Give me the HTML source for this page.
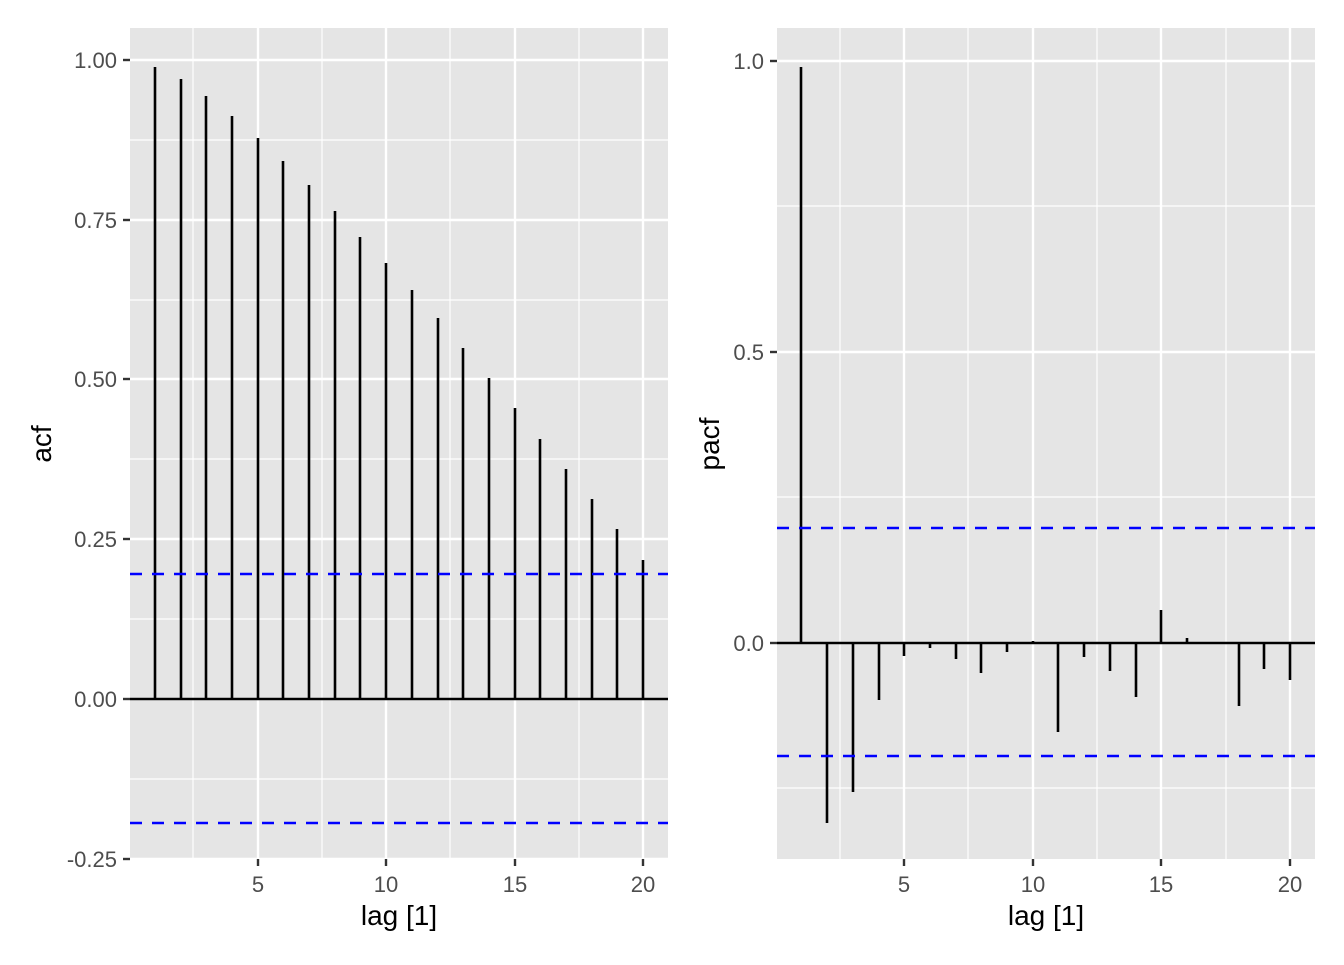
<!DOCTYPE html>
<html><head><style>body{margin:0;background:#fff}svg text{font-family:"Liberation Sans",Arial,sans-serif}</style></head><body>
<svg width="1344" height="960" xmlns="http://www.w3.org/2000/svg">
<rect width="1344" height="960" fill="#fff"/>
<!-- Left panel -->
<rect x="130" y="28" width="538" height="831" fill="#e5e5e5"/>
<g stroke="#fff" stroke-width="1.2">
<line x1="130" x2="668" y1="140" y2="140"/><line x1="130" x2="668" y1="300" y2="300"/><line x1="130" x2="668" y1="459" y2="459"/><line x1="130" x2="668" y1="619" y2="619"/><line x1="130" x2="668" y1="779" y2="779"/>
<line x1="193" x2="193" y1="28" y2="859"/><line x1="322" x2="322" y1="28" y2="859"/><line x1="450" x2="450" y1="28" y2="859"/><line x1="579" x2="579" y1="28" y2="859"/>
</g>
<g stroke="#fff" stroke-width="2.4">
<line x1="130" x2="668" y1="60" y2="60"/><line x1="130" x2="668" y1="220" y2="220"/><line x1="130" x2="668" y1="379" y2="379"/><line x1="130" x2="668" y1="539" y2="539"/><line x1="130" x2="668" y1="699" y2="699"/><line x1="130" x2="668" y1="859" y2="859"/>
<line x1="258" x2="258" y1="28" y2="859"/><line x1="386" x2="386" y1="28" y2="859"/><line x1="515" x2="515" y1="28" y2="859"/><line x1="643" x2="643" y1="28" y2="859"/>
</g>
<g stroke="#000" stroke-width="2.6">
<line x1="155" x2="155" y1="699" y2="67"/><line x1="181" x2="181" y1="699" y2="79"/><line x1="206" x2="206" y1="699" y2="96"/><line x1="232" x2="232" y1="699" y2="116"/><line x1="258" x2="258" y1="699" y2="138"/><line x1="283" x2="283" y1="699" y2="161"/><line x1="309" x2="309" y1="699" y2="185"/><line x1="335" x2="335" y1="699" y2="211"/><line x1="360" x2="360" y1="699" y2="237"/><line x1="386" x2="386" y1="699" y2="263"/><line x1="412" x2="412" y1="699" y2="290"/><line x1="438" x2="438" y1="699" y2="318"/><line x1="463" x2="463" y1="699" y2="348"/><line x1="489" x2="489" y1="699" y2="378"/><line x1="515" x2="515" y1="699" y2="408"/><line x1="540" x2="540" y1="699" y2="439"/><line x1="566" x2="566" y1="699" y2="469"/><line x1="592" x2="592" y1="699" y2="499"/><line x1="617" x2="617" y1="699" y2="529"/><line x1="643" x2="643" y1="699" y2="560"/>
<line x1="130" x2="668" y1="699" y2="699"/>
</g>
<g stroke="#0000ff" stroke-width="2.4" stroke-dasharray="12,10"><line x1="130" x2="668" y1="574" y2="574"/><line x1="130" x2="668" y1="823" y2="823"/></g>
<g stroke="#333" stroke-width="2.4">
<line x1="123" x2="130" y1="60" y2="60"/><line x1="123" x2="130" y1="220" y2="220"/><line x1="123" x2="130" y1="379" y2="379"/><line x1="123" x2="130" y1="539" y2="539"/><line x1="123" x2="130" y1="699" y2="699"/><line x1="123" x2="130" y1="859" y2="859"/>
<line x1="258" x2="258" y1="859" y2="866"/><line x1="386" x2="386" y1="859" y2="866"/><line x1="515" x2="515" y1="859" y2="866"/><line x1="643" x2="643" y1="859" y2="866"/>
</g>
<g fill="#4d4d4d" font-size="22" text-anchor="end">
<text x="117" y="68">1.00</text><text x="117" y="228">0.75</text><text x="117" y="387">0.50</text><text x="117" y="547">0.25</text><text x="117" y="707">0.00</text><text x="117" y="867">-0.25</text>
</g>
<g fill="#4d4d4d" font-size="22" text-anchor="middle">
<text x="258" y="892">5</text><text x="386" y="892">10</text><text x="515" y="892">15</text><text x="643" y="892">20</text>
</g>
<text x="399" y="925" font-size="28" text-anchor="middle">lag [1]</text>
<text transform="translate(51,444) rotate(-90)" font-size="28" text-anchor="middle">acf</text>

<!-- Right panel -->
<rect x="777" y="28" width="538" height="831" fill="#e5e5e5"/>
<g stroke="#fff" stroke-width="1.2">
<line x1="777" x2="1315" y1="206" y2="206"/><line x1="777" x2="1315" y1="497" y2="497"/><line x1="777" x2="1315" y1="788" y2="788"/>
<line x1="840" x2="840" y1="28" y2="859"/><line x1="968" x2="968" y1="28" y2="859"/><line x1="1097" x2="1097" y1="28" y2="859"/><line x1="1226" x2="1226" y1="28" y2="859"/>
</g>
<g stroke="#fff" stroke-width="2.4">
<line x1="777" x2="1315" y1="61" y2="61"/><line x1="777" x2="1315" y1="352" y2="352"/><line x1="777" x2="1315" y1="643" y2="643"/>
<line x1="904" x2="904" y1="28" y2="859"/><line x1="1033" x2="1033" y1="28" y2="859"/><line x1="1161" x2="1161" y1="28" y2="859"/><line x1="1290" x2="1290" y1="28" y2="859"/>
</g>
<g stroke="#000" stroke-width="2.6">
<line x1="801" x2="801" y1="643" y2="67"/><line x1="827" x2="827" y1="643" y2="823"/><line x1="853" x2="853" y1="643" y2="792"/><line x1="879" x2="879" y1="643" y2="700"/><line x1="904" x2="904" y1="643" y2="656"/><line x1="930" x2="930" y1="643" y2="648"/><line x1="956" x2="956" y1="643" y2="659"/><line x1="981" x2="981" y1="643" y2="673"/><line x1="1007" x2="1007" y1="643" y2="652"/><line x1="1033" x2="1033" y1="643" y2="641"/><line x1="1058" x2="1058" y1="643" y2="732"/><line x1="1084" x2="1084" y1="643" y2="657"/><line x1="1110" x2="1110" y1="643" y2="671"/><line x1="1136" x2="1136" y1="643" y2="697"/><line x1="1161" x2="1161" y1="643" y2="610"/><line x1="1187" x2="1187" y1="643" y2="638"/><line x1="1239" x2="1239" y1="643" y2="706"/><line x1="1264" x2="1264" y1="643" y2="669"/><line x1="1290" x2="1290" y1="643" y2="680"/>
<line x1="777" x2="1315" y1="643" y2="643"/>
</g>
<g stroke="#0000ff" stroke-width="2.4" stroke-dasharray="12,10"><line x1="777" x2="1315" y1="528" y2="528"/><line x1="777" x2="1315" y1="756" y2="756"/></g>
<g stroke="#333" stroke-width="2.4">
<line x1="770" x2="777" y1="61" y2="61"/><line x1="770" x2="777" y1="352" y2="352"/><line x1="770" x2="777" y1="643" y2="643"/>
<line x1="904" x2="904" y1="859" y2="866"/><line x1="1033" x2="1033" y1="859" y2="866"/><line x1="1161" x2="1161" y1="859" y2="866"/><line x1="1290" x2="1290" y1="859" y2="866"/>
</g>
<g fill="#4d4d4d" font-size="22" text-anchor="end">
<text x="764" y="69">1.0</text><text x="764" y="360">0.5</text><text x="764" y="651">0.0</text>
</g>
<g fill="#4d4d4d" font-size="22" text-anchor="middle">
<text x="904" y="892">5</text><text x="1033" y="892">10</text><text x="1161" y="892">15</text><text x="1290" y="892">20</text>
</g>
<text x="1046" y="925" font-size="28" text-anchor="middle">lag [1]</text>
<text transform="translate(719,444) rotate(-90)" font-size="28" text-anchor="middle">pacf</text>
</svg>
</body></html>
